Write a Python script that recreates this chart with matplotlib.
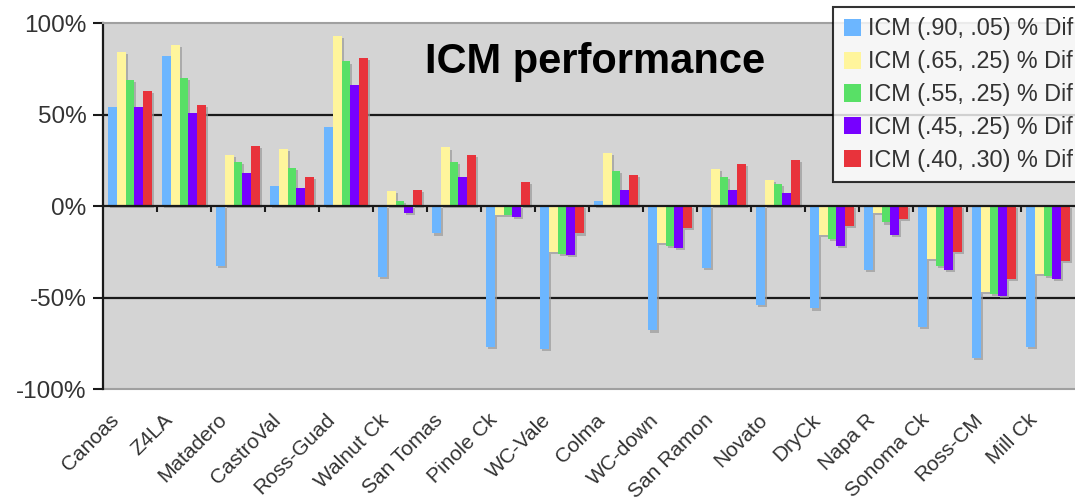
import matplotlib
matplotlib.use("Agg")
import matplotlib.pyplot as plt
import matplotlib.transforms as mtransforms
import matplotlib.patheffects as pe
import numpy as np

plt.rcParams['font.family'] = ['Liberation Sans', 'DejaVu Sans']

categories = ["Canoas", "Z4LA", "Matadero", "CastroVal", "Ross-Guad", "Walnut Ck",
              "San Tomas", "Pinole Ck", "WC-Vale", "Colma", "WC-down", "San Ramon",
              "Novato", "DryCk", "Napa R", "Sonoma Ck", "Ross-CM", "Mill Ck"]

icm_90_05 = [54, 82, -33, 11, 43, -39, -15, -77, -78, 3, -68, -34, -54, -56, -35, -66, -83, -77]
icm_65_25 = [84, 88, 28, 31, 93, 8, 32, -5, -25, 29, -20, 20, 14, -16, -4, -29, -47, -37]
icm_55_25 = [69, 70, 24, 21, 79, 3, 24, -5, -26, 19, -22, 16, 12, -18, -9, -33, -48, -38]
icm_45_25 = [54, 51, 18, 10, 66, -4, 16, -6, -27, 9, -23, 9, 7, -22, -16, -35, -49, -40]
icm_40_30 = [63, 55, 33, 16, 81, 9, 28, 13, -15, 17, -12, 23, 25, -11, -7, -25, -40, -30]

series = [icm_90_05, icm_65_25, icm_55_25, icm_45_25, icm_40_30]
labels = ["ICM (.90, .05) % Dif", "ICM (.65, .25) % Dif", "ICM (.55, .25) % Dif",
          "ICM (.45, .25) % Dif", "ICM (.40, .30) % Dif"]
colors = ["#6cb6ff", "#fff59c", "#58e066", "#7700ff", "#e8333b"]

yticks = [-100, -50, 0, 50, 100]
ytick_labels = ["-100%", "-50%", "0%", "50%", "100%"]

W, H = 1075, 504
fig = plt.figure(figsize=(W / 100, H / 100), dpi=100)
ax = fig.add_axes([103 / W, 1 - 389 / H, 972 / W, (389 - 23) / H])
ax.set_facecolor("#d4d4d4")

n = len(categories)
x = np.arange(n)
bw = 0.16
shadow = [pe.SimplePatchShadow(offset=(1.5, -1.5), shadow_rgbFace="#9a9a9a", alpha=0.7), pe.Normal()]
handles = []
for k, (vals, c, lab) in enumerate(zip(series, colors, labels)):
    b = ax.bar(x - 0.4 + bw * k + bw / 2, vals, width=bw, color=c, label=lab,
               zorder=3, linewidth=0)
    for p in b:
        p.set_path_effects(shadow)
    handles.append(b)

ax.set_xlim(-0.5, n - 0.5)
ax.set_ylim(-100, 100)

for yv in (50, -50):
    ax.axhline(yv, color="#1a1a1a", lw=1.6, zorder=1)

ax.spines['right'].set_visible(False)
ax.spines['top'].set_color("#a0a0a0")
ax.spines['top'].set_linewidth(1.5)
ax.spines['left'].set_color("#1a1a1a")
ax.spines['left'].set_linewidth(1.6)
ax.spines['bottom'].set_position(('data', 0))
ax.spines['bottom'].set_color("#1a1a1a")
ax.spines['bottom'].set_linewidth(1.6)
ax.spines['bottom'].set_zorder(4)
ax.axhline(-100, color="#a0a0a0", lw=1.5, zorder=1, clip_on=False)

ax.set_yticks(yticks)
ax.set_yticklabels(ytick_labels, fontsize=17.5, color="#333333")
ax.tick_params(axis='y', direction='out', length=7, width=1.5, color="#1a1a1a", pad=5)

ax.set_xticks(np.arange(0.5, n - 0.5, 1.0))
ax.set_xticklabels([])
ax.tick_params(axis='x', direction='out', length=4, width=1.5, color="#1a1a1a")

offset = mtransforms.ScaledTranslation(-14 / 100, -28 / 100, fig.dpi_scale_trans)
trans = mtransforms.blended_transform_factory(ax.transData, ax.transAxes) + offset
for i, cat in enumerate(categories):
    ax.text(i, 0, cat, transform=trans, rotation=45, rotation_mode='anchor',
            ha='right', va='center', fontsize=15, color="#333333", clip_on=False)

fig.text(595 / W, 1 - 73 / H, "ICM performance", ha='center', va='baseline',
         fontsize=30, fontweight='bold', color="black")

leg = fig.legend(handles=handles, labels=labels, loc='upper left',
                 bbox_to_anchor=(833 / W, 1 - 7 / H), bbox_transform=fig.transFigure,
                 fontsize=16.8, frameon=True, fancybox=False, borderaxespad=0,
                 handlelength=0.75, handleheight=0.75, handletextpad=0.3,
                 labelspacing=0.42, borderpad=0.45)
leg.get_frame().set_edgecolor("black")
leg.get_frame().set_linewidth(1.5)
for h in leg.legend_handles:
    h.set_path_effects([])
for t in leg.get_texts():
    t.set_color("#333333")

fig.savefig("out.png", dpi=100)
